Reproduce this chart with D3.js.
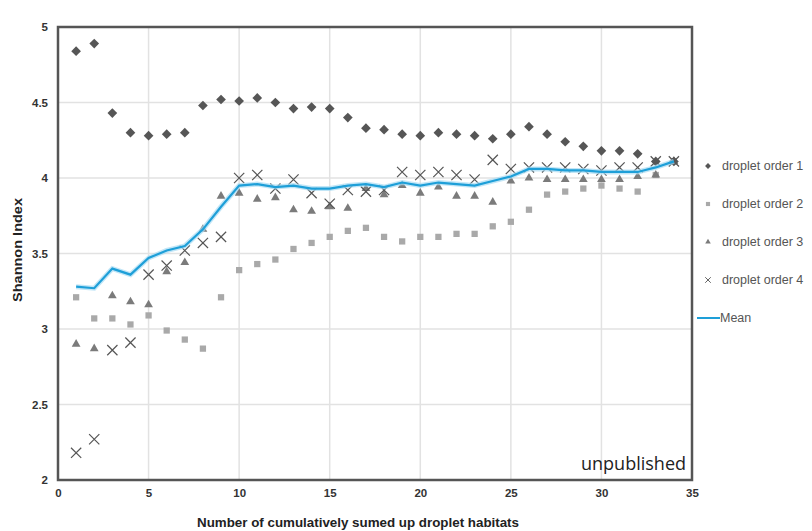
<!doctype html>
<html>
<head>
<meta charset="utf-8">
<title>Shannon Index</title>
<style>
  body { margin:0; background:#fff; }
  svg { display:block; font-family:"Liberation Sans", Arial, sans-serif; }
  .grid line { stroke:#e2e2e2; stroke-width:1.5px; }
  .axis path, .axis line { display:none; }
  .axis text { font-size:11.5px; font-weight:bold; fill:#333; }
  .legend text { font-size:12.5px; fill:#555; }
</style>
<script src="https://cdn.jsdelivr.net/npm/d3@7"></script>
</head>
<body>
<svg id="chart" width="812" height="531"></svg>
<script>

  // x = number of habitats summed up
  var habitats = d3.range(1, 35)

  var order1 = [4.84,4.89,4.43,4.30,4.28,4.29,4.30,4.48,4.52,4.51,4.53,4.50,4.46,4.47,4.46,4.40,4.33,4.32,4.29,4.28,4.30,4.29,4.28,4.26,4.29,4.34,4.29,4.24,4.21,4.18,4.18,4.16,4.11,4.11]
  var order2 = [3.21,3.07,3.07,3.03,3.09,2.99,2.93,2.87,3.21,3.39,3.43,3.46,3.53,3.57,3.61,3.65,3.67,3.61,3.58,3.61,3.61,3.63,3.63,3.68,3.71,3.79,3.89,3.91,3.93,3.95,3.93,3.91,4.02,4.11]
  var order3 = [2.90,2.87,3.22,3.18,3.16,3.38,3.44,3.66,3.88,3.90,3.86,3.87,3.79,3.78,3.81,3.80,3.93,3.89,3.95,3.90,3.94,3.88,3.88,3.84,3.98,4.00,3.99,3.99,3.99,3.99,3.99,4.01,4.02,4.11]
  var order4 = [2.18,2.27,2.86,2.91,3.36,3.42,3.52,3.57,3.61,4.00,4.02,3.93,3.99,3.90,3.83,3.92,3.91,3.92,4.04,4.02,4.04,4.02,3.99,4.12,4.06,4.07,4.07,4.07,4.06,4.05,4.07,4.07,4.11,4.11]
  var mean   = [3.28,3.27,3.40,3.36,3.47,3.52,3.55,3.66,3.81,3.95,3.96,3.94,3.95,3.93,3.93,3.95,3.96,3.94,3.97,3.95,3.97,3.96,3.95,3.98,4.01,4.06,4.06,4.05,4.05,4.04,4.04,4.04,4.07,4.11]

  var xTicks = [0,5,10,15,20,25,30,35]
  var yTicks = [2,2.5,3,3.5,4,4.5,5]
  var seriesNames = ["droplet order 1","droplet order 2","droplet order 3","droplet order 4","Mean"]

  var svg = d3.select("#chart")
  var plotL = 58, plotR = 692, plotT = 27, plotB = 480

  var xScale = d3.scaleLinear().domain([0,35]).range([plotL, plotR])
  var yScale = d3.scaleLinear().domain([2,5]).range([plotB, plotT])

  // grid
  svg.append("g").attr("class","grid")
     .selectAll("line").data(xTicks).enter().append("line")
     .attr("x1", d => xScale(d)).attr("x2", d => xScale(d))
     .attr("y1", plotT).attr("y2", plotB)
  svg.append("g").attr("class","grid")
     .selectAll("line").data(yTicks).enter().append("line")
     .attr("x1", plotL).attr("x2", plotR)
     .attr("y1", d => yScale(d)).attr("y2", d => yScale(d))

  // axes (labels only)
  svg.append("g").attr("class","axis")
     .attr("transform", "translate(0," + (plotB + 5) + ")")
     .call(d3.axisBottom(xScale).tickValues(xTicks).tickSize(0).tickPadding(4))
  svg.append("g").attr("class","axis")
     .attr("transform", "translate(" + (plotL - 10) + ",0)")
     .call(d3.axisLeft(yScale).tickValues(yTicks).tickSize(0).tickPadding(0)
            .tickFormat(d3.format("")))

  // frame
  svg.append("rect")
     .attr("x", plotL).attr("y", plotT)
     .attr("width", plotR - plotL).attr("height", plotB - plotT)
     .attr("fill","none").attr("stroke","#555").attr("stroke-width",2.5)

  // axis titles
  svg.append("text")
     .attr("x", 358).attr("y", 527)
     .attr("text-anchor","middle")
     .attr("textLength", 322).attr("lengthAdjust","spacingAndGlyphs")
     .style("font-size","12.5px").style("font-weight","bold").style("fill","#222")
     .text("Number of cumulatively sumed up droplet habitats")
  svg.append("text")
     .attr("transform","translate(22,250) rotate(-90)")
     .attr("text-anchor","middle")
     .attr("textLength", 104).attr("lengthAdjust","spacingAndGlyphs")
     .style("font-size","12.5px").style("font-weight","bold").style("fill","#222")
     .text("Shannon Index")

  var diamond = d3.symbol().type(d3.symbolDiamond2)
  var square = d3.symbol().type(d3.symbolSquare2)
  var triangle = d3.symbol().type(d3.symbolTriangle2)
  var cross = d3.symbol().type(d3.symbolX)

  function drawPoints(vals, sym, size, style) {
    var g = svg.append("g")
    g.selectAll("path").data(vals).enter().append("path")
     .attr("transform", (d,i) => "translate(" + xScale(habitats[i]) + "," + yScale(d) + ")")
     .attr("d", sym.size(size)())
     .attr("fill", style.fill).attr("stroke", style.stroke || "none")
     .attr("stroke-width", style.sw || 0)
  }

  drawPoints(order2, square, 50, {fill:"#a9a9a9"})
  drawPoints(order3, triangle, 55, {fill:"#7b7b7b"})
  drawPoints(order1, diamond, 60, {fill:"#565656"})
  drawPoints(order4, cross, 70, {fill:"none", stroke:"#555", sw:1.2})

  var line = d3.line().x((d,i) => xScale(habitats[i])).y(d => yScale(d))
  svg.append("path").datum(mean).attr("d", line)
     .attr("fill","none").attr("stroke","#a8dcf3").attr("stroke-width",5).attr("opacity",0.7)
  svg.append("path").datum(mean).attr("d", line)
     .attr("fill","none").attr("stroke","#1e9fd8").attr("stroke-width",2.2)

  // watermark
  svg.append("text")
     .attr("x", 686).attr("y", 470).attr("text-anchor","end")
     .style("font-family","'Open Sans', sans-serif").style("font-size","18px").style("fill","#222")
     .text("unpublished")

  // legend
  var legendY = [166, 204, 242, 280, 318]
  var lg = svg.append("g").attr("class","legend")
  var legendSyms = [diamond, square, triangle, cross]
  var legendFill = ["#565656","#a9a9a9","#7b7b7b","none"]
  legendSyms.forEach(function(s, i) {
    lg.append("path")
      .attr("transform","translate(708," + legendY[i] + ")")
      .attr("d", s.size(22)())
      .attr("fill", legendFill[i])
      .attr("stroke", i == 3 ? "#666" : "none").attr("stroke-width", 1)
  })
  lg.append("line").attr("x1",697).attr("x2",720)
    .attr("y1",legendY[4]).attr("y2",legendY[4])
    .attr("stroke","#1e9fd8").attr("stroke-width",2)
  lg.selectAll("text").data(seriesNames).enter().append("text")
    .attr("x", (d,i) => i == 4 ? 720 : 722)
    .attr("y", (d,i) => legendY[i] + 4)
    .text(d => d)

</script>
</body>
</html>
